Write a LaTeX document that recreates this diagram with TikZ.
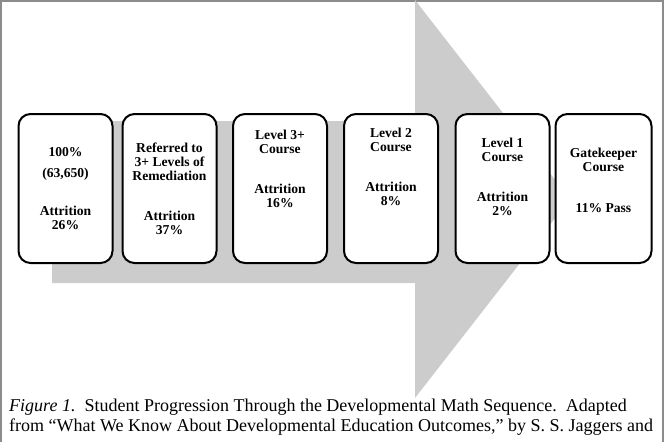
\documentclass[tikz,border=0pt]{standalone}
\usepackage{fontspec}
\setmainfont{Liberation Serif}
\usetikzlibrary{positioning}

\tikzset{
  stage/.style={draw, line width=2pt, rounded corners=12pt, fill=white,
    minimum width=94pt, minimum height=149pt, inner sep=0pt},
  stagetext/.style={align=center, inner sep=0pt,
    font=\fontsize{13.6}{14}\selectfont\bfseries},
  captext/.style={anchor=base west, inner sep=0pt,
    font=\fontsize{18}{20}\selectfont},
}

\begin{document}
\begin{tikzpicture}[x=1pt, y=-1pt]
            \useasboundingbox (0,0) rectangle (668,442);

            % Draw the frame round the figure
            \draw[black!45, line width=1.5pt] (1,442) -- (1,0.75) -- (663,0.75) -- (663,442);

            % Draw the big grey arrow behind the stages
            \fill[black!20] (52,121) -- (415,121) -- (415,0) -- (570,199)
                -- (415,398) -- (415,283) -- (52,283) -- cycle;

            % Draw the stages (boxes)
            \node[stage] (s1) at (65.5,188.5) {};
            \node[stage] (s2) at (169.5,188.5) {};
            \node[stage] (s3) at (280,188.5) {};
            \node[stage] (s4) at (391,188.5) {};
            \node[stage] (s5) at (502.5,188.5) {};
            \node[stage, minimum width=96pt] (s6) at (603.5,188.5) {};

            % Write the text of each stage
            \node[stagetext] (t1) at (65.5,189) 
                {100\%\\[7pt](63,650)\\[24pt]Attrition\\26\%};
            \node[stagetext] (t2) at (169.5,189) 
                {Referred to\\3+ Levels of\\Remediation\\[26pt]Attrition\\37\%};
            \node[stagetext] (t3) at (280,169) 
                {Level 3+\\Course\\[26pt]Attrition\\16\%};
            \node[stagetext] (t4) at (391,166.5) 
                {Level 2\\Course\\[26pt]Attrition\\8\%};
            \node[stagetext] (t5) at (502.5,177) 
                {Level 1\\Course\\[26pt]Attrition\\2\%};
            \node[stagetext] (t6) at (603.5,180) 
                {Gatekeeper\\Course\\[27pt]11\% Pass};

            % Write the caption
            \node[captext] (cap1) at (9,411) 
                {\textit{Figure 1.}\ \ Student Progression Through the Developmental Math Sequence.\ \ Adapted};
            \node[captext] (cap2) at (9,431) 
                {from ``What We Know About Developmental Education Outcomes,'' by S. S. Jaggers and};

\end{tikzpicture}
\end{document}
